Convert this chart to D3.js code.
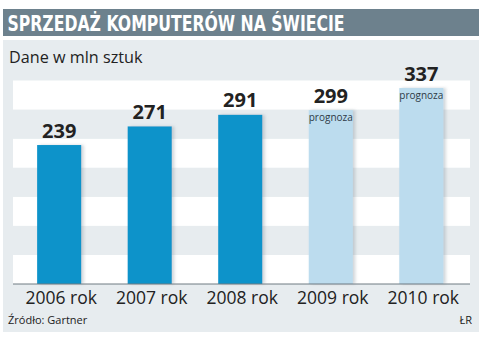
<!DOCTYPE html>
<html>
<head>
<meta charset="utf-8">
<script src="https://cdn.jsdelivr.net/npm/d3@7"></script>
<style>
  body { margin: 0; background: #fff; }
  svg { display: block; }
</style>
</head>
<body>
<div id="chart"></div>
<script>
/**
 * DATA
 * */
const years = ["2006 rok", "2007 rok", "2008 rok", "2009 rok", "2010 rok"];
const sales = [239, 271, 291, 299, 337];
const forecast = [false, false, false, true, true];
const bandTicks = [0, 50, 100, 150, 200, 250, 300, 350];

const width = 483,
  height = 342,
  margin = { top: 80.5, bottom: 58, left: 13, right: 13 };

const svg = d3.select("#chart")
  .append("svg")
  .attr("width", width)
  .attr("height", height);

// shadow for the bars
const defs = svg.append("defs");
const shadow = defs.append("filter")
  .attr("id", "shadow")
  .attr("x", "-20%").attr("y", "-10%")
  .attr("width", "150%").attr("height", "120%");
shadow.append("feDropShadow")
  .attr("dx", 2.5).attr("dy", 0)
  .attr("stdDeviation", 1.8)
  .attr("flood-color", "#7d8a94")
  .attr("flood-opacity", 0.35);

// title bar
svg.append("rect")
  .attr("x", 3).attr("y", 9)
  .attr("width", 476).attr("height", 27)
  .attr("fill", "#6d818d");

svg.append("text")
  .attr("x", 7.5).attr("y", 30.5)
  .attr("fill", "#fff")
  .attr("font-family", "'DejaVu Sans Condensed', 'DejaVu Sans', sans-serif")
  .attr("font-weight", "bold")
  .attr("font-size", 21)
  .attr("textLength", 337)
  .attr("lengthAdjust", "spacingAndGlyphs")
  .text("SPRZEDAŻ KOMPUTERÓW NA ŚWIECIE");

// panel
svg.append("rect")
  .attr("x", 3).attr("y", 40)
  .attr("width", 476).attr("height", 292)
  .attr("fill", "#e7ecef");

svg.append("text")
  .attr("x", 9).attr("y", 63)
  .attr("fill", "#222")
  .attr("font-family", "'Open Sans', sans-serif")
  .attr("font-size", 16.2)
  .text("Dane w mln sztuk");

// scales
const x = d3.scaleBand()
  .domain(years)
  .range([14.5, 466])
  .paddingInner(0.513)
  .paddingOuter(0.25);

const y = d3.scaleLinear()
  .domain([0, 350])
  .range([height - margin.bottom, margin.top]);

const plotLeft = margin.left, plotRight = width - 13;

// alternating bands
const bands = d3.pairs(bandTicks);
svg.append("g")
  .selectAll("rect")
  .data(bands)
  .join("rect")
  .attr("x", plotLeft)
  .attr("width", plotRight - plotLeft)
  .attr("y", d => y(d[1]))
  .attr("height", d => y(d[0]) - y(d[1]))
  .attr("fill", (d, i) => i % 2 === 0 ? "#ffffff" : "#e7ecef");

// bars
const data = years.map((yr, i) => ({ year: yr, value: sales[i], forecast: forecast[i] }));

svg.append("g")
  .selectAll("rect")
  .data(data)
  .join("rect")
  .attr("x", d => x(d.year))
  .attr("width", x.bandwidth())
  .attr("y", d => y(d.value))
  .attr("height", d => y(0) - y(d.value))
  .attr("fill", d => d.forecast ? "#bcdcee" : "#0993ca")
  .attr("filter", "url(#shadow)");

// baseline
svg.append("line")
  .attr("x1", plotLeft).attr("x2", plotRight)
  .attr("y1", y(0)).attr("y2", y(0))
  .attr("stroke", "#6f7a82")
  .attr("stroke-width", 1);

// value labels
svg.append("g")
  .selectAll("text")
  .data(data)
  .join("text")
  .attr("x", d => x(d.year) + x.bandwidth() / 2)
  .attr("y", d => y(d.value) - 7.5)
  .attr("text-anchor", "middle")
  .attr("fill", "#222")
  .attr("font-family", "'Open Sans', sans-serif")
  .attr("font-weight", "bold")
  .attr("font-size", 20)
  .text(d => d.value);

// "prognoza" labels
svg.append("g")
  .selectAll("text")
  .data(data.filter(d => d.forecast))
  .join("text")
  .attr("x", d => x(d.year) + x.bandwidth() / 2)
  .attr("y", d => y(d.value) + 11)
  .attr("text-anchor", "middle")
  .attr("fill", "#2e3a46")
  .attr("font-family", "'Open Sans', sans-serif")
  .attr("font-size", 10)
  .text("prognoza");

// x axis labels
const xAxis = svg.append("g")
  .attr("transform", `translate(2,${y(0)})`)
  .call(d3.axisBottom(x).tickSize(0).tickPadding(12));
xAxis.select(".domain").remove();
xAxis.selectAll("text")
  .attr("fill", "#222")
  .attr("font-family", "'Open Sans', sans-serif")
  .attr("font-size", 17.5)
  .attr("dy", "0.45em");

// footer
svg.append("text")
  .attr("x", 8).attr("y", 324)
  .attr("fill", "#222")
  .attr("font-family", "'Open Sans', sans-serif")
  .attr("font-size", 11)
  .text("Źródło: Gartner");

svg.append("text")
  .attr("x", 472).attr("y", 324)
  .attr("text-anchor", "end")
  .attr("fill", "#222")
  .attr("font-family", "'Open Sans', sans-serif")
  .attr("font-size", 11)
  .text("ŁR");
</script>
</body>
</html>
